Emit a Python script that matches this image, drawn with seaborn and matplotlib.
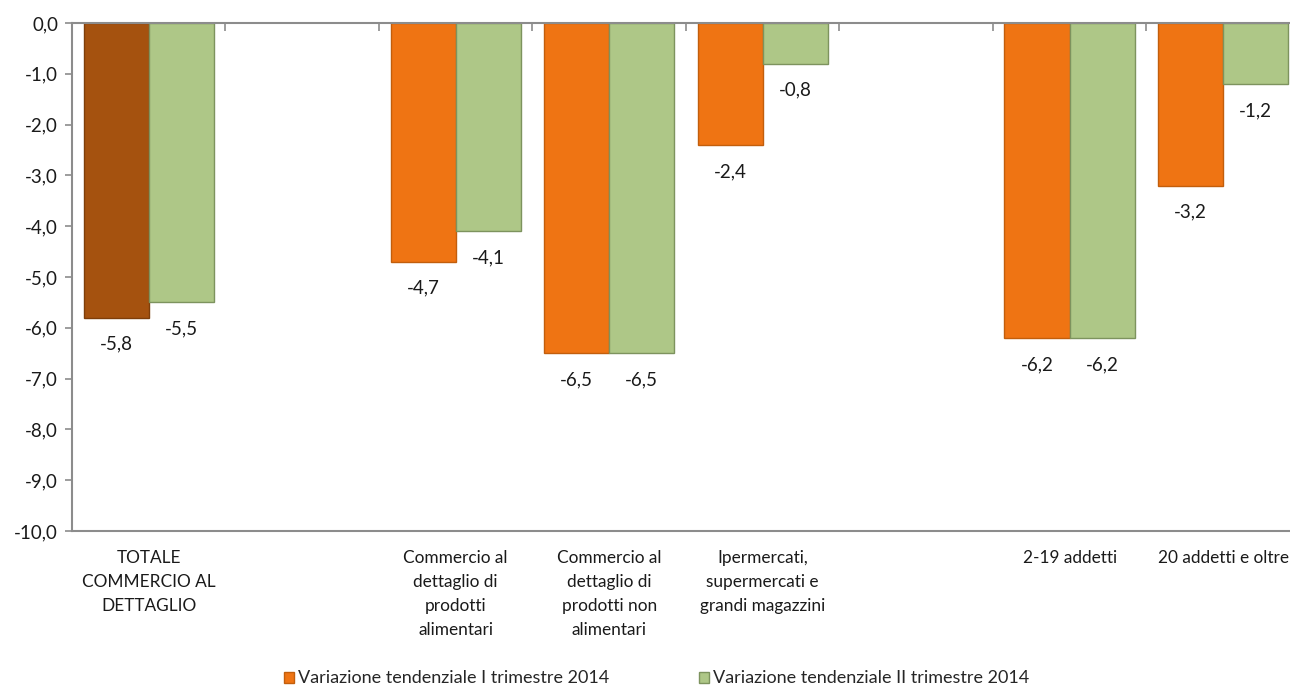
import matplotlib
matplotlib.use("Agg")
import matplotlib.pyplot as plt
import seaborn as sns
import pandas as pd
import numpy as np
from matplotlib.ticker import FuncFormatter, FixedLocator

sns.set_theme(style="white")
plt.rcParams["font.family"] = ["Lato", "DejaVu Sans"]

# Categories (blank slots are gaps in the original chart)
categories = ["TOTALE\nCOMMERCIO AL\nDETTAGLIO", " ",
              "Commercio al\ndettaglio di\nprodotti\nalimentari",
              "Commercio al\ndettaglio di\nprodotti non\nalimentari",
              "Ipermercati,\nsupermercati e\ngrandi magazzini", "  ",
              "2-19 addetti", "20 addetti e oltre"]
data_categories = [categories[0], categories[2], categories[3], categories[4], categories[6], categories[7]]
series_names = ["Variazione tendenziale I trimestre 2014", "Variazione tendenziale II trimestre 2014"]
q1_values = [-5.8, -4.7, -6.5, -2.4, -6.2, -3.2]
q2_values = [-5.5, -4.1, -6.5, -0.8, -6.2, -1.2]

df = pd.DataFrame({
    "Categoria": data_categories * 2,
    "Serie": [series_names[0]] * len(q1_values) + [series_names[1]] * len(q2_values),
    "Valore": q1_values + q2_values,
})

orange = "#EF7413"
brown = "#A5520F"
green = "#AEC787"

fig = plt.figure(figsize=(12.9, 6.86), dpi=100)
ax = fig.add_axes([72 / 1290, 1 - 531 / 686, 1 - 72 / 1290, (531 - 23) / 686])

sns.barplot(df, x="Categoria", y="Valore", hue="Serie", order=categories, hue_order=series_names,
            palette=[orange, green], width=0.85, gap=0, ax=ax, legend=False, saturation=1)

edge_cols = ["#C25E0C", "#7D935E"]
for cont, ec in zip(ax.containers, edge_cols):
    for bar in cont:
        bar.set_edgecolor(ec)
        bar.set_linewidth(1.0)
# first bar (totale, I trimestre) is darker
first = ax.containers[0][0]
first.set_facecolor(brown)
first.set_edgecolor("#7E3E0A")

for cont in ax.containers:
    vals = cont.datavalues
    labels = ["" if np.isnan(v) else f"{v:.1f}".replace(".", ",") for v in vals]
    ax.bar_label(cont, labels=labels, padding=13, fontsize=13.5, color="#1a1a1a")

ax.set_ylim(-10, 0)
ax.set_xlim(-0.5, 7.435)
ax.yaxis.set_major_locator(FixedLocator(np.arange(-10, 0.5, 1)))
ax.yaxis.set_major_formatter(FuncFormatter(lambda v, p: f"{v:.1f}".replace(".", ",")))
ax.set_xlabel("")
ax.set_ylabel("")

ax.set_xticks(range(len(categories)))
ax.set_xticklabels(categories, linespacing=1.6)
ax.set_xticks(np.arange(0.5, 7, 1), minor=True)
ax.tick_params(axis="x", which="major", bottom=True, top=False, length=0, pad=14,
               labelsize=12.4, labelcolor="#1a1a1a")
ax.tick_params(axis="x", which="minor", bottom=False, top=True, direction="in", length=6,
               width=1.2, color="#8c8c8c")
ax.tick_params(axis="y", which="major", left=True, direction="out", length=5, width=1.2,
               color="#8c8c8c", labelsize=13.5, labelcolor="#1a1a1a", pad=5)

for side in ["left", "top", "bottom"]:
    ax.spines[side].set_visible(True)
    ax.spines[side].set_color("#8c8c8c")
    ax.spines[side].set_linewidth(1.5)
ax.spines["right"].set_visible(False)
ax.grid(False)

handles = [plt.Rectangle((0, 0), 1, 1, facecolor=orange, edgecolor="#C25E0C"),
           plt.Rectangle((0, 0), 1, 1, facecolor=green, edgecolor="#7D935E")]
fig.legend(handles, series_names, loc="center", bbox_to_anchor=(0.509, 0.011), ncol=2,
           frameon=False, fontsize=13, handlelength=0.55, handleheight=0.55,
           handletextpad=0.2, columnspacing=5.0, borderpad=0)

fig.savefig("out.png", dpi=100)
